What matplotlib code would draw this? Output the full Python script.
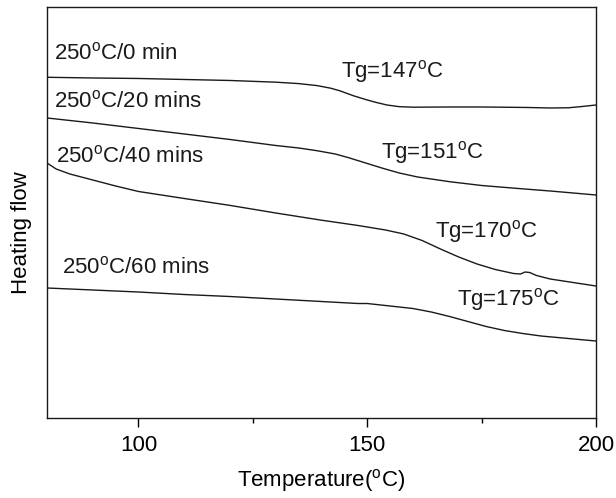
import numpy as np
import matplotlib
matplotlib.use("Agg")
import matplotlib.pyplot as plt
from matplotlib.ticker import MultipleLocator, NullLocator

plt.rcParams["font.family"] = ["Liberation Sans", "DejaVu Sans"]
plt.rcParams["mathtext.fontset"] = "custom"
plt.rcParams["mathtext.rm"] = "Liberation Sans"

# DSC traces (temperature in C, heat flow in arb. units)
t_0 = [80, 90, 100, 110, 120, 130, 135, 139, 142, 144, 147, 150, 152, 154.3,
       157, 160, 168, 175, 185, 190, 194, 197, 200]
hf_0 = [34.07, 34.0, 33.95, 33.85, 33.75, 33.58, 33.44, 33.24, 32.98, 32.72,
        32.22, 31.8, 31.55, 31.3, 31.13, 31.08, 31.1, 31.1, 31.05, 31.0, 31.02,
        31.15, 31.3]

t_20 = [80, 90, 100, 110, 120, 130, 135, 139, 143, 146, 150, 153.4, 157,
        161, 168, 175, 183, 190, 200]
hf_20 = [30.0, 29.5, 28.95, 28.4, 27.85, 27.25, 27.0, 26.73, 26.4, 26.02,
         25.45, 24.97, 24.5, 24.1, 23.63, 23.25, 22.95, 22.7, 22.3]

t_40 = [80, 82, 85, 90, 95, 100, 110, 120, 130, 140, 148, 154, 158, 162, 166,
        170, 174, 178, 182, 183.5, 184.5, 185.5, 187, 190, 195, 200]
hf_40 = [25.5, 24.9, 24.4, 23.8, 23.2, 22.65, 21.95, 21.26, 20.5, 19.78,
         19.25, 18.8, 18.4, 17.75, 16.9, 16.1, 15.4, 14.85, 14.45, 14.4, 14.6,
         14.55, 14.25, 13.9, 13.55, 13.2]

t_60 = [80, 90, 100, 110, 120, 130, 140, 148, 150, 155, 160, 164, 168, 172,
        176, 180, 184, 188, 194, 200]
hf_60 = [13.0, 12.8, 12.6, 12.35, 12.15, 11.9, 11.65, 11.45, 11.45, 11.2,
         10.95, 10.6, 10.15, 9.65, 9.15, 8.75, 8.45, 8.2, 7.95, 7.7]

cond_labels = [r"250$^{\mathrm{o}}$C/0 min", r"250$^{\mathrm{o}}$C/20 mins",
               r"250$^{\mathrm{o}}$C/40 mins", r"250$^{\mathrm{o}}$C/60 mins"]
tg_labels = [r"Tg=147$^{\mathrm{o}}$C", r"Tg=151$^{\mathrm{o}}$C",
             r"Tg=170$^{\mathrm{o}}$C", r"Tg=175$^{\mathrm{o}}$C"]

fig = plt.figure(figsize=(6.16, 4.98), dpi=100)
ax = fig.add_axes([0.0763, 0.1606, 0.8912, 0.8254])

for t, hf in [(t_0, hf_0), (t_20, hf_20), (t_40, hf_40), (t_60, hf_60)]:
    ax.plot(t, hf, color="#1a1a1a", lw=1.0)

fs = 16
cond_pos = [(81.5, 35.9), (81.5, 31.1), (82.0, 25.6), (83.3, 14.5)]
for (x, y), s in zip(cond_pos, cond_labels):
    ax.text(x, y, s, fontsize=fs, va="baseline", ha="left", color="#1a1a1a")
tg_pos = [(144.3, 34.1), (153.0, 26.0), (164.8, 18.1), (169.6, 11.3)]
for (x, y), s in zip(tg_pos, tg_labels):
    ax.text(x, y, s, fontsize=fs, va="baseline", ha="left", color="#1a1a1a")

ax.set_xlim(80, 200)
ax.set_ylim(0, 41.1)
ax.xaxis.set_major_locator(MultipleLocator(50))
ax.xaxis.set_minor_locator(MultipleLocator(25))
ax.yaxis.set_major_locator(NullLocator())
ax.tick_params(axis="x", which="major", direction="out", length=6.5,
               width=1.0, labelsize=fs, pad=6)
ax.tick_params(axis="x", which="minor", direction="out", length=3.5, width=1.0)
for s in ax.spines.values():
    s.set_linewidth(1.0)
    s.set_color("#1a1a1a")

ax.set_xlabel(r"Temperature($^{\mathrm{o}}$C)", fontsize=fs, labelpad=8)
ax.set_ylabel("Heating flow", fontsize=fs)
ax.yaxis.set_label_coords(-0.028, 0.45)

fig.savefig("out.png", dpi=100, facecolor="white")
